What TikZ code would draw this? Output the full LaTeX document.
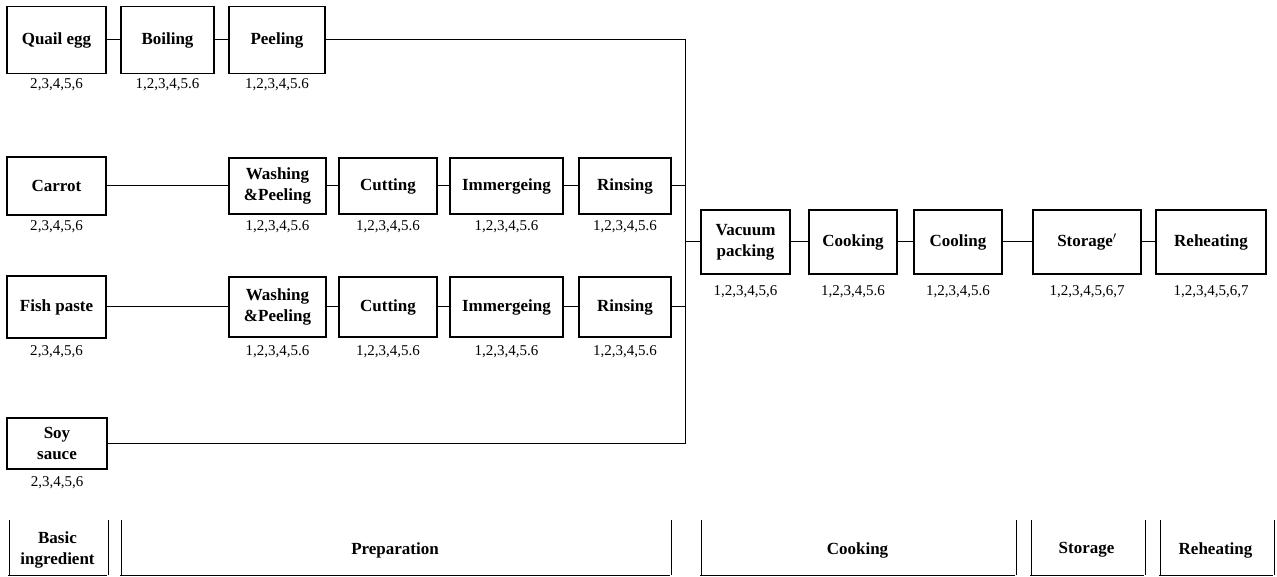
\documentclass[tikz,border=0pt]{standalone}
\usepackage{fontspec}
\setmainfont{Liberation Serif}
\usepackage{tikz}

\begin{document}
\begin{tikzpicture}[x=1pt, y=-1pt,
  stepbox/.style={rectangle, draw=black, line width=1.1pt, inner sep=2pt, align=center, font=\fontsize{17}{21}\selectfont\bfseries},
  num/.style={font=\fontsize{15}{17}\selectfont, inner sep=1pt},
  link/.style={line width=1pt},
  divider/.style={double, line width=0.7pt, double distance=1.6pt},
  stage/.style={align=center, font=\fontsize{17}{21}\selectfont\bfseries}
]
\useasboundingbox (0,0) rectangle (1277,577);

% Quail egg row
\node[stepbox, minimum width=99pt, minimum height=67pt] (quail) at (56.5,40) {Quail egg};
\node[stepbox, minimum width=93pt, minimum height=67pt] (boil) at (167.5,40) {Boiling};
\node[stepbox, minimum width=96pt, minimum height=67pt] (peel) at (277,40) {Peeling};
\node[num] (quailn) at (56.5,85) {2,3,4,5,6};
\node[num] (boiln) at (167.5,85) {1,2,3,4,5.6};
\node[num] (peeln) at (277,85) {1,2,3,4,5.6};

% Carrot row
\node[stepbox, minimum width=99pt, minimum height=58pt] (carrot) at (56.5,186) {Carrot};
\node[stepbox, minimum width=97pt, minimum height=56pt] (washa) at (277.5,186) {Washing\\\&Peeling};
\node[stepbox, minimum width=98pt, minimum height=56pt] (cuta) at (388,186) {Cutting};
\node[stepbox, minimum width=113pt, minimum height=56pt] (imma) at (506.5,186) {Immergeing};
\node[stepbox, minimum width=92pt, minimum height=56pt] (rina) at (625,186) {Rinsing};
\node[num] (carrotn) at (56.5,227) {2,3,4,5,6};
\node[num] (washan) at (277.5,227) {1,2,3,4,5.6};
\node[num] (cutan) at (388,227) {1,2,3,4,5.6};
\node[num] (imman) at (506.5,227) {1,2,3,4,5.6};
\node[num] (rinan) at (625,227) {1,2,3,4,5.6};

% Fish paste row
\node[stepbox, minimum width=99pt, minimum height=62pt] (fish) at (56.5,307) {Fish paste};
\node[stepbox, minimum width=97pt, minimum height=60pt] (washb) at (277.5,307) {Washing\\\&Peeling};
\node[stepbox, minimum width=98pt, minimum height=60pt] (cutb) at (388,307) {Cutting};
\node[stepbox, minimum width=113pt, minimum height=60pt] (immb) at (506.5,307) {Immergeing};
\node[stepbox, minimum width=92pt, minimum height=60pt] (rinb) at (625,307) {Rinsing};
\node[num] (fishn) at (56.5,352) {2,3,4,5,6};
\node[num] (washbn) at (277.5,352) {1,2,3,4,5.6};
\node[num] (cutbn) at (388,352) {1,2,3,4,5.6};
\node[num] (immbn) at (506.5,352) {1,2,3,4,5.6};
\node[num] (rinbn) at (625,352) {1,2,3,4,5.6};

% Soy sauce
\node[stepbox, minimum width=100pt, minimum height=51pt] (soy) at (57,443.5) {Soy\\sauce};
\node[num] (soyn) at (57,483) {2,3,4,5,6};

% Cooking chain
\node[stepbox, minimum width=89pt, minimum height=64pt] (vac) at (745.5,242) {Vacuum\\packing};
\node[stepbox, minimum width=88pt, minimum height=64pt] (cook) at (853,242) {Cooking};
\node[stepbox, minimum width=88pt, minimum height=64pt] (cool) at (958,242) {Cooling};
\node[stepbox, minimum width=108pt, minimum height=64pt] (store) at (1087,242) {Storage$^{\prime}$};
\node[stepbox, minimum width=110pt, minimum height=64pt] (reheat) at (1211,242) {Reheating};
\node[num] (vacn) at (745.5,292) {1,2,3,4,5,6};
\node[num] (cookn) at (853,292) {1,2,3,4,5.6};
\node[num] (cooln) at (958,292) {1,2,3,4,5.6};
\node[num] (storen) at (1087,292) {1,2,3,4,5,6,7};
\node[num] (reheatn) at (1211,292) {1,2,3,4,5,6,7};

% Collecting line
\coordinate (bustop) at (685,40);
\coordinate (busmid) at (685,242);
\coordinate (busbot) at (685,443.5);

% Connections
\draw[link] (quail) -- (boil);
\draw[link] (boil) -- (peel);
\draw[link] (peel.east) -- (bustop) -- (busbot);

\draw[link] (carrot) -- (washa);
\draw[link] (washa) -- (cuta);
\draw[link] (cuta) -- (imma);
\draw[link] (imma) -- (rina);
\draw[link] (rina.east) -- (rina.east -| busmid);

\draw[link] (fish) -- (washb);
\draw[link] (washb) -- (cutb);
\draw[link] (cutb) -- (immb);
\draw[link] (immb) -- (rinb);
\draw[link] (rinb.east) -- (rinb.east -| busmid);

\draw[link] (soy.east) -- (busbot);

\draw[link] (busmid) -- (vac);
\draw[link] (vac) -- (cook);
\draw[link] (cook) -- (cool);
\draw[link] (cool) -- (store);
\draw[link] (store) -- (reheat);

% Stages
\node[stage] (basic) at (57.5,550) {Basic\\ingredient};
\node[stage] (prep) at (395,550) {Preparation};
\node[stage] (cookst) at (857.5,550) {Cooking};
\node[stage] (storest) at (1086.5,550) {Storage};
\node[stage] (reheatst) at (1215.5,550) {Reheating};

\draw[divider] (8,520) -- (8,575);
\draw[divider] (107,520) -- (107,575);
\draw[link] (8,575) -- (107,575);
\draw[divider] (120,520) -- (120,575);
\draw[divider] (670,520) -- (670,575);
\draw[link] (120,575) -- (670,575);
\draw[divider] (700,520) -- (700,575);
\draw[divider] (1015,520) -- (1015,575);
\draw[link] (700,575) -- (1015,575);
\draw[divider] (1030,520) -- (1030,575);
\draw[divider] (1144,520) -- (1144,575);
\draw[link] (1030,575) -- (1144,575);
\draw[divider] (1159,520) -- (1159,575);
\draw[divider] (1273,520) -- (1273,575);
\draw[link] (1159,575) -- (1273,575);

\end{tikzpicture}
\end{document}
